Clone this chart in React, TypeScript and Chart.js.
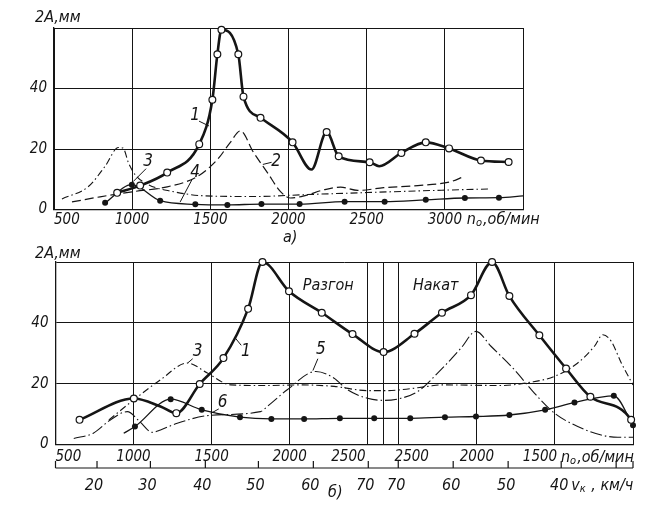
import React, { useEffect, useRef } from 'react';
import { Chart, registerables } from 'chart.js';
Chart.register(...registerables);

const FONT = '"Liberation Sans Narrow", "DejaVu Sans Condensed", "Liberation Sans", sans-serif';
const INK = '#151515';

// ---------- chart а) : amplitude vs engine speed ----------
const aXTicks = [500, 1000, 1500, 2000, 2500, 3000, 3500];
const aXLabels = ['500', '1000', '1500', '2000', '2500', '3000', ''];
const yTicks = [0, 20, 40, 60];
const yLabels = ['0', '20', '40', ''];

const a1Rpm = [904, 1051, 1224, 1429, 1513, 1545, 1571, 1679, 1712, 1821, 2026, 2147, 2244, 2321, 2519, 2580, 2722, 2878, 3027, 3231, 3408];
const a1Amp = [5.5, 7.9, 12.2, 21.6, 36.3, 51.3, 59.4, 51.3, 37.3, 30.3, 22.2, 13.2, 25.6, 17.6, 15.6, 14.3, 18.7, 22.2, 20.2, 16.2, 15.7];
const a1Unmarked = [11, 15];

const a2Rpm = [615, 795, 1006, 1224, 1417, 1545, 1628, 1692, 1776, 1865, 1949, 2013, 2100, 2226, 2333, 2442, 2609, 2827, 3038, 3122];
const a2Amp = [2.5, 4.2, 5.9, 7.5, 10.9, 16.5, 22.2, 26.0, 18.9, 12.2, 5.9, 3.8, 4.5, 6.5, 7.4, 6.3, 7.2, 7.9, 9.2, 10.9];

const a3Rpm = [551, 720, 827, 912, 942, 976, 1019, 1104, 1254, 1468, 1788, 2100, 2500, 3000, 3295];
const a3Amp = [3.5, 7.6, 14.3, 20.5, 20.3, 15.5, 11.5, 8.2, 6.0, 4.5, 4.3, 4.9, 5.6, 6.4, 6.8];

const a4Rpm = [827, 998, 1179, 1404, 1609, 1827, 2071, 2359, 2615, 2878, 3128, 3346, 3500];
const a4Amp = [2.2, 8.2, 2.9, 1.7, 1.5, 1.8, 1.8, 2.6, 2.6, 3.2, 3.8, 3.9, 4.5];
const a4Unmarked = [12];

// ---------- chart б) : run-up (Разгон) then coast-down (Накат) ----------
// x = position along the folded rpm axis: run-up rpm, then 2*TURN_RPM - rpm on coast-down
const TURN_RPM = 2600;
const bXMin = 500;
const bXMax = 4200;
const bTickPos = [500, 1000, 1500, 2000, 2500, 2600, 2700, 3200, 3700, 4200];
const bTickLabels = ['500', '1000', '1500', '2000', '2500', '', '2500', '2000', '1500', ''];

const speedKmh = [20, 30, 40, 50, 60, 70];
const speedRpm = [766, 1108, 1460, 1800, 2152, 2504];
const speedDecelLabeled = [40, 50, 60, 70];

const b1Pos = [654, 1002, 1173, 1274, 1424, 1576, 1734, 1826, 1996, 2206, 2403, 2602, 2800, 2976, 3162, 3297, 3408, 3600, 3771, 3927, 4188, 4200];
const b1Amp = [8.1, 15.1, 12.5, 10.3, 19.9, 28.4, 44.6, 60, 50.4, 43.3, 36.3, 30.4, 36.4, 43.3, 49.1, 60, 48.8, 35.9, 25.0, 15.7, 8.1, 6.4];
const b1Unmarked = [2, 21];

const b3Pos = [842, 1002, 1173, 1345, 1473, 1623, 1858, 2072, 2285, 2499, 2606, 2713, 2885, 2970, 3354, 3547, 3697, 3846, 3953, 4007, 4061, 4125, 4200];
const b3Amp = [8.1, 14.7, 21.3, 26.8, 23.5, 19.6, 19.4, 19.6, 19.1, 17.7, 17.7, 18.0, 19.1, 19.6, 19.4, 20.5, 22.4, 26.8, 32.3, 36.1, 33.9, 26.8, 19.6];

const b5Pos = [617, 742, 849, 960, 1040, 1120, 1173, 1280, 1494, 1813, 1857, 1985, 2168, 2285, 2371, 2499, 2606, 2713, 2820, 2970, 3098, 3194, 3290, 3440, 3568, 3697, 3846, 3996, 4103, 4200];
const b5Amp = [2.0, 3.7, 8.0, 10.8, 7.5, 4.0, 4.8, 7.0, 9.6, 10.8, 12.5, 18.0, 24.0, 21.8, 18.0, 15.2, 14.5, 15.2, 17.4, 24.6, 31.7, 37.2, 32.3, 24.6, 16.9, 10.3, 5.9, 3.1, 2.4, 2.4];

const b6Pos = [937, 1009, 1238, 1437, 1682, 1883, 2093, 2322, 2542, 2773, 2995, 3194, 3408, 3637, 3825, 4077, 4200];
const b6Amp = [3.7, 5.9, 14.9, 11.4, 9.0, 8.4, 8.4, 8.6, 8.6, 8.6, 9.0, 9.2, 9.7, 11.4, 13.8, 16.0, 6.3];
const b6Unmarked = [0];

// curve number labels (data coordinates) and their leader lines
const aCurveLabels = [
  { t: '1', x: 1403, y: 30.9, lx1: 1428, ly1: 29.2, lx2: 1492, ly2: 27.6 },
  { t: '2', x: 1921, y: 15.9, lx1: 1836, ly1: 14.9, lx2: 1892, ly2: 15.6 },
  { t: '3', x: 1102, y: 15.9, lx1: 1089, ly1: 13.5, lx2: 1006, ly2: 9.2 },
  { t: '4', x: 1403, y: 12.2, lx1: 1383, ly1: 9.9, lx2: 1307, ly2: 2.5 },
];
const bCurveLabels = [
  { t: '3', x: 1411, y: 30.5, lx1: 1379, ly1: 28.2, lx2: 1347, ly2: 26.8 },
  { t: '1', x: 1719, y: 30.5, lx1: 1690, ly1: 32.6, lx2: 1652, ly2: 35.0 },
  { t: '5', x: 2200, y: 31.2, lx1: 2181, ly1: 28.2, lx2: 2149, ly2: 24.3 },
  { t: '6', x: 1571, y: 13.7, lx1: 1546, ly1: 11.7, lx2: 1494, ly2: 10.2 },
];
const bPhaseLabels = [
  { t: 'Разгон', x: 2084, y: 52.3 },
  { t: 'Накат', x: 2790, y: 52.3 },
];

const pts = (xs: number[], ys: number[]) => xs.map((x, i) => ({ x, y: ys[i] }));

function lineDs(xs: number[], ys: number[], extra: any) {
  return {
    data: pts(xs, ys),
    borderColor: INK,
    borderWidth: 1.2,
    pointRadius: 0,
    cubicInterpolationMode: 'monotone',
    fill: false,
    clip: false,
    ...extra,
  };
}
const openMarks = (unmarked: number[]) => ({
  pointRadius: (c: any) => (unmarked.includes(c.dataIndex) ? 0 : 3.4),
  pointBackgroundColor: '#fff',
  pointBorderColor: INK,
  pointBorderWidth: 1.2,
});
const filledMarks = (unmarked: number[]) => ({
  pointRadius: (c: any) => (unmarked.includes(c.dataIndex) ? 0 : 3),
  pointBackgroundColor: INK,
  pointBorderColor: INK,
  pointBorderWidth: 0,
});

const font = (size: number) => ({ family: FONT, size, style: 'italic' as const });

function yAxis(width: number) {
  return {
    type: 'linear',
    min: 0,
    max: 60,
    afterFit: (s: any) => { s.width = width; },
    afterBuildTicks: (s: any) => { s.ticks = yTicks.map((v) => ({ value: v })); },
    ticks: {
      color: INK,
      font: font(15),
      padding: 7,
      callback: (_v: any, i: number) => yLabels[i],
    },
    grid: { color: INK, lineWidth: 1, drawTicks: false },
    border: { color: INK, width: 1.3 },
  };
}

function drawSubText(ctx: CanvasRenderingContext2D, x: number, y: number, main: string, sub: string, rest: string, size: number) {
  ctx.textAlign = 'left';
  ctx.textBaseline = 'middle';
  ctx.font = `italic ${size}px ${FONT}`;
  ctx.fillText(main, x, y);
  let w = ctx.measureText(main).width;
  ctx.font = `italic ${Math.round(size * 0.68)}px ${FONT}`;
  ctx.fillText(sub, x + w, y + 3);
  w += ctx.measureText(sub).width + 1;
  ctx.font = `italic ${size}px ${FONT}`;
  ctx.fillText(rest, x + w, y);
}

function drawCurveLabels(chart: any, list: any[]) {
  const { ctx, scales: { x, y } } = chart;
  ctx.font = `italic 17px ${FONT}`;
  ctx.textAlign = 'center';
  ctx.textBaseline = 'middle';
  ctx.lineWidth = 1;
  for (const a of list) {
    ctx.fillText(a.t, x.getPixelForValue(a.x), y.getPixelForValue(a.y));
    ctx.beginPath();
    ctx.moveTo(x.getPixelForValue(a.lx1), y.getPixelForValue(a.ly1));
    ctx.lineTo(x.getPixelForValue(a.lx2), y.getPixelForValue(a.ly2));
    ctx.stroke();
  }
}

const topDecor = {
  id: 'topDecor',
  afterDraw(chart: any) {
    const { ctx, scales: { x } } = chart;
    ctx.save();
    ctx.fillStyle = INK;
    ctx.strokeStyle = INK;
    drawCurveLabels(chart, aCurveLabels);
    ctx.font = `italic 16px ${FONT}`;
    ctx.textAlign = 'left';
    ctx.textBaseline = 'middle';
    ctx.fillText('2A,мм', 35, 18);
    drawSubText(ctx, x.getPixelForValue(3000) + 22, 220, 'n', 'o', ',об/мин', 16);
    ctx.font = `italic 16px ${FONT}`;
    ctx.textAlign = 'left';
    ctx.fillText('а)', 283, 238);
    ctx.restore();
  },
};

const botDecor = {
  id: 'botDecor',
  afterDraw(chart: any) {
    const { ctx, scales: { x, y } } = chart;
    ctx.save();
    ctx.fillStyle = INK;
    ctx.strokeStyle = INK;
    drawCurveLabels(chart, bCurveLabels);
    ctx.font = `italic 16px ${FONT}`;
    ctx.textAlign = 'left';
    ctx.textBaseline = 'middle';
    for (const p of bPhaseLabels) ctx.fillText(p.t, x.getPixelForValue(p.x), y.getPixelForValue(p.y));
    ctx.fillText('2A,мм', 35, 9);
    drawSubText(ctx, x.getPixelForValue(3700) + 6, 213, 'n', 'o', ',об/мин', 16);

    // vehicle speed scale
    const axY = 223;
    ctx.lineWidth = 1.2;
    ctx.beginPath();
    ctx.moveTo(x.left, axY);
    ctx.lineTo(x.right, axY);
    const tickXs: number[] = [x.left, x.right];
    speedRpm.forEach((r) => {
      tickXs.push(x.getPixelForValue(r));
      const d = 2 * TURN_RPM - r;
      if (d <= bXMax) tickXs.push(x.getPixelForValue(d));
    });
    for (const tx of tickXs) {
      ctx.moveTo(tx, axY);
      ctx.lineTo(tx, axY - 7);
    }
    ctx.stroke();
    ctx.font = `italic 16px ${FONT}`;
    ctx.textAlign = 'center';
    speedKmh.forEach((v, i) => {
      ctx.fillText(String(v), x.getPixelForValue(speedRpm[i]) - 3, 241);
      if (speedDecelLabeled.includes(v)) {
        ctx.fillText(String(v), x.getPixelForValue(2 * TURN_RPM - speedRpm[i]) - 2, 241);
      }
    });
    const i40 = speedKmh.indexOf(40);
    drawSubText(ctx, x.getPixelForValue(2 * TURN_RPM - speedRpm[i40]) + 10, 241, 'v', 'к', ' , км/ч', 16);
    ctx.font = `italic 16px ${FONT}`;
    ctx.textAlign = 'left';
    ctx.fillText('б)', 328, 248);
    ctx.restore();
  },
};

function topConfig(): any {
  return {
    type: 'line',
    data: {
      datasets: [
        lineDs(a1Rpm, a1Amp, { borderWidth: 2.6, ...openMarks(a1Unmarked) }),
        lineDs(a4Rpm, a4Amp, { borderWidth: 1.3, ...filledMarks(a4Unmarked) }),
        lineDs(a2Rpm, a2Amp, { borderWidth: 1.2, borderDash: [9, 4] }),
        lineDs(a3Rpm, a3Amp, { borderWidth: 1.1, borderDash: [7, 3, 1.5, 3] }),
      ],
    },
    options: {
      responsive: false,
      animation: false,
      events: [],
      layout: { padding: { left: 0, top: 28, right: 137, bottom: 0 } },
      plugins: { legend: { display: false }, tooltip: { enabled: false } },
      scales: {
        x: {
          type: 'linear',
          min: 500,
          max: 3500,
          afterFit: (s: any) => { s.height = 35.5; },
          afterBuildTicks: (s: any) => { s.ticks = aXTicks.map((v) => ({ value: v })); },
          ticks: {
            color: INK,
            font: font(15),
            padding: 2,
            autoSkip: false,
            maxRotation: 0,
            align: 'inner',
            callback: (_v: any, i: number) => aXLabels[i],
          },
          grid: { color: INK, lineWidth: 1, drawTicks: false },
          border: { color: INK, width: 1.3 },
        },
        y: yAxis(54),
      },
    },
    plugins: [topDecor],
  };
}

function botConfig(): any {
  return {
    type: 'line',
    data: {
      datasets: [
        lineDs(b1Pos, b1Amp, { borderWidth: 2.6, ...openMarks(b1Unmarked) }),
        lineDs(b6Pos, b6Amp, { borderWidth: 1.3, ...filledMarks(b6Unmarked) }),
        lineDs(b3Pos, b3Amp, { borderWidth: 1.1, borderDash: [7, 3, 1.5, 3] }),
        lineDs(b5Pos, b5Amp, { borderWidth: 1.1, borderDash: [12, 3, 1.5, 3] }),
      ],
    },
    options: {
      responsive: false,
      animation: false,
      events: [],
      layout: { padding: { left: 0, top: 17, right: 27, bottom: 0 } },
      plugins: { legend: { display: false }, tooltip: { enabled: false } },
      scales: {
        x: {
          type: 'linear',
          min: bXMin,
          max: bXMax,
          afterFit: (s: any) => { s.height = 64.5; },
          afterBuildTicks: (s: any) => { s.ticks = bTickPos.map((v) => ({ value: v })); },
          ticks: {
            color: INK,
            font: font(15),
            padding: 4,
            autoSkip: false,
            maxRotation: 0,
            align: 'inner',
            callback: (_v: any, i: number) => {
              const l = bTickLabels[i];
              if (i === 4) return l + ' '.repeat(9);
              if (i === 6) return ' '.repeat(6) + l;
              if (i === 8) return l + ' '.repeat(7);
              return l;
            },
          },
          grid: { color: INK, lineWidth: 1, drawTicks: false },
          border: { color: INK, width: 1.3 },
        },
        y: yAxis(55.5),
      },
    },
    plugins: [botDecor],
  };
}

export default function App() {
  const topRef = useRef<HTMLCanvasElement>(null);
  const botRef = useRef<HTMLCanvasElement>(null);
  useEffect(() => {
    const c1 = new Chart(topRef.current as HTMLCanvasElement, topConfig());
    const c2 = new Chart(botRef.current as HTMLCanvasElement, botConfig());
    return () => {
      c1.destroy();
      c2.destroy();
    };
  }, []);
  return (
    <div style={{ position: 'fixed', left: 0, top: 0, width: 660, height: 509, background: '#fff' }}>
      <canvas ref={topRef} width={660} height={245} style={{ position: 'absolute', left: 0, top: 0, width: 660, height: 245 }} />
      <canvas ref={botRef} width={660} height={264} style={{ position: 'absolute', left: 0, top: 245, width: 660, height: 264 }} />
    </div>
  );
}
